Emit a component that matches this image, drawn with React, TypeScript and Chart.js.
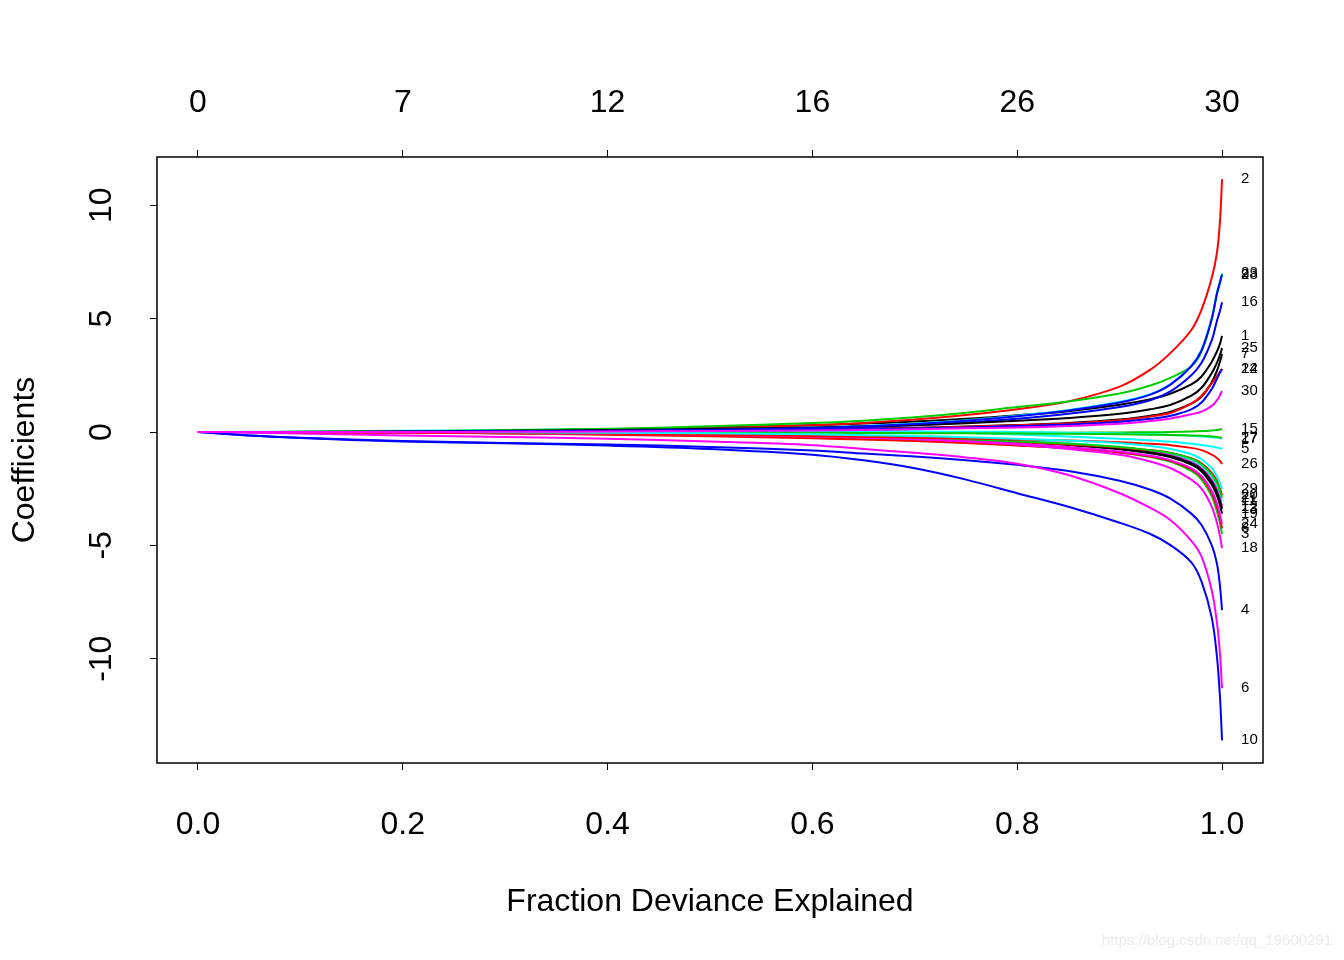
import React, { useEffect, useRef } from "react";
import { Chart, registerables } from "chart.js";

Chart.register(...registerables);

// Fraction of deviance explained at which coefficients are sampled
const FRACTION = [0, 0.05, 0.1, 0.2, 0.3, 0.4, 0.5, 0.6, 0.65, 0.7, 0.75, 0.8, 0.85, 0.9, 0.93, 0.95, 0.97, 0.98, 0.99, 0.995, 0.998, 1.0];

// Bottom-axis ticks and top-axis (degrees of freedom) labels
const X_TICKS = [0, 0.2, 0.4, 0.6, 0.8, 1.0];
const DF_LABELS = ["0", "7", "12", "16", "26", "30"];
const Y_TICKS = [-10, -5, 0, 5, 10];

// Coefficient paths, one per variable
const coef1 = [0, 0, 0.01, 0.03, 0.07, 0.12, 0.2, 0.3, 0.37, 0.46, 0.58, 0.74, 0.92, 1.2, 1.45, 1.7, 2.1, 2.45, 3.1, 3.55, 3.9, 4.24];
const coef2 = [0, 0, 0, 0.02, 0.05, 0.1, 0.18, 0.3, 0.4, 0.55, 0.75, 1.0, 1.35, 2.0, 2.75, 3.5, 4.5, 5.4, 6.8, 7.9, 9.3, 11.15];
const coef3 = [0, 0, -0.01, -0.02, -0.05, -0.1, -0.17, -0.25, -0.31, -0.38, -0.47, -0.58, -0.71, -0.9, -1.1, -1.32, -1.72, -2.1, -2.85, -3.5, -4.05, -4.5];
const coef4 = [0, -0.15, -0.25, -0.4, -0.48, -0.55, -0.66, -0.82, -0.95, -1.08, -1.25, -1.45, -1.72, -2.15, -2.55, -2.95, -3.6, -4.1, -5.0, -5.8, -6.8, -7.86];
const coef5 = [0, 0.01, 0.02, 0.05, 0.09, 0.12, 0.14, 0.11, 0.07, 0.02, -0.04, -0.11, -0.2, -0.3, -0.37, -0.43, -0.52, -0.57, -0.64, -0.69, -0.72, -0.75];
const coef6 = [0, -0.03, -0.07, -0.15, -0.22, -0.3, -0.42, -0.58, -0.75, -0.92, -1.12, -1.4, -1.9, -2.7, -3.35, -3.9, -4.8, -5.5, -7.0, -8.4, -9.8, -11.3];
const coef7 = [0, 0, 0, 0.01, 0.03, 0.05, 0.08, 0.12, 0.15, 0.19, 0.24, 0.31, 0.4, 0.55, 0.72, 0.9, 1.25, 1.55, 2.2, 2.7, 3.1, 3.44];
const coef8 = [0, 0, -0.01, -0.03, -0.07, -0.12, -0.19, -0.28, -0.33, -0.4, -0.49, -0.6, -0.72, -0.9, -1.08, -1.28, -1.65, -2.0, -2.7, -3.3, -3.8, -4.25];
const coef9 = [0, 0, 0.01, 0.03, 0.08, 0.14, 0.25, 0.4, 0.5, 0.65, 0.85, 1.1, 1.35, 1.7, 2.05, 2.4, 2.9, 3.55, 5.0, 6.1, 6.6, 6.95];
const coef10 = [0, -0.15, -0.26, -0.42, -0.5, -0.6, -0.75, -1.0, -1.25, -1.6, -2.1, -2.7, -3.3, -4.0, -4.5, -5.0, -5.75, -6.6, -8.2, -9.9, -11.7, -13.6];
const coef11 = [0, 0, 0, 0, -0.01, -0.03, -0.07, -0.12, -0.17, -0.22, -0.29, -0.38, -0.5, -0.66, -0.82, -0.97, -1.25, -1.5, -1.98, -2.38, -2.75, -3.05];
const coef12 = [0, 0, 0, -0.01, -0.03, -0.05, -0.09, -0.15, -0.2, -0.26, -0.34, -0.44, -0.56, -0.72, -0.88, -1.04, -1.33, -1.6, -2.12, -2.55, -2.95, -3.3];
const coef13 = [0, 0, 0, 0, -0.02, -0.04, -0.08, -0.14, -0.19, -0.25, -0.33, -0.43, -0.56, -0.74, -0.9, -1.07, -1.37, -1.65, -2.2, -2.65, -3.05, -3.4];
const coef14 = [0, 0, 0, 0.01, 0.02, 0.04, 0.07, 0.11, 0.14, 0.18, 0.23, 0.3, 0.38, 0.52, 0.68, 0.85, 1.25, 1.6, 2.15, 2.45, 2.65, 2.78];
const coef15 = [0, 0, 0, 0, -0.01, -0.01, -0.02, -0.02, -0.03, -0.03, -0.03, -0.03, -0.03, -0.02, -0.01, 0, 0.02, 0.04, 0.07, 0.09, 0.11, 0.13];
const coef16 = [0, 0, 0, 0.01, 0.02, 0.05, 0.09, 0.15, 0.21, 0.3, 0.42, 0.58, 0.8, 1.1, 1.4, 1.8, 2.5, 3.05, 4.05, 4.9, 5.35, 5.72];
const coef17 = [0, 0, 0, 0, 0.01, 0.01, 0.02, 0.02, 0.02, 0.02, 0.01, 0, -0.03, -0.07, -0.1, -0.13, -0.17, -0.2, -0.23, -0.25, -0.27, -0.29];
const coef18 = [0, 0, -0.01, -0.02, -0.03, -0.05, -0.09, -0.15, -0.22, -0.3, -0.41, -0.55, -0.75, -1.0, -1.3, -1.6, -2.1, -2.5, -3.3, -4.0, -4.6, -5.12];
const coef19 = [0, 0, 0, 0, -0.01, -0.03, -0.07, -0.12, -0.17, -0.24, -0.33, -0.43, -0.57, -0.76, -0.94, -1.12, -1.44, -1.74, -2.33, -2.8, -3.22, -3.6];
const coef20 = [0, 0, -0.01, -0.02, -0.05, -0.08, -0.13, -0.2, -0.25, -0.3, -0.37, -0.45, -0.55, -0.68, -0.8, -0.92, -1.15, -1.38, -1.8, -2.15, -2.5, -2.78];
const coef21 = [0, 0, 0, -0.01, -0.03, -0.06, -0.1, -0.16, -0.21, -0.26, -0.33, -0.42, -0.52, -0.66, -0.8, -0.93, -1.18, -1.42, -1.88, -2.25, -2.6, -2.9];
const coef22 = [0, 0, 0, 0.01, 0.02, 0.03, 0.05, 0.09, 0.12, 0.15, 0.2, 0.26, 0.33, 0.45, 0.58, 0.72, 1.0, 1.3, 1.9, 2.35, 2.62, 2.78];
const coef23 = [0, 0, 0, 0.01, 0.03, 0.07, 0.12, 0.2, 0.27, 0.37, 0.52, 0.72, 0.97, 1.33, 1.68, 2.13, 2.93, 3.63, 5.05, 6.15, 6.65, 7.0];
const coef24 = [0, 0, -0.01, -0.02, -0.05, -0.08, -0.13, -0.2, -0.25, -0.32, -0.41, -0.52, -0.66, -0.86, -1.05, -1.25, -1.6, -1.95, -2.6, -3.15, -3.65, -4.06];
const coef25 = [0, 0, 0, 0.02, 0.05, 0.09, 0.14, 0.2, 0.25, 0.31, 0.39, 0.5, 0.62, 0.8, 1.0, 1.2, 1.6, 1.95, 2.6, 3.05, 3.4, 3.7];
const coef26 = [0, 0, 0, -0.02, -0.04, -0.08, -0.12, -0.18, -0.21, -0.25, -0.29, -0.33, -0.38, -0.45, -0.52, -0.58, -0.7, -0.8, -1.0, -1.15, -1.28, -1.41];
const coef27 = [0, 0, 0, 0, -0.01, -0.01, -0.02, -0.03, -0.04, -0.05, -0.06, -0.07, -0.08, -0.1, -0.12, -0.13, -0.15, -0.17, -0.2, -0.22, -0.24, -0.26];
const coef28 = [0, 0, 0, 0.01, 0.03, 0.06, 0.1, 0.18, 0.25, 0.35, 0.5, 0.7, 0.95, 1.3, 1.65, 2.1, 2.9, 3.6, 5.0, 6.1, 6.6, 6.95];
const coef29 = [0, 0, 0, 0, -0.01, -0.03, -0.06, -0.1, -0.14, -0.18, -0.23, -0.3, -0.38, -0.5, -0.62, -0.75, -0.98, -1.2, -1.6, -1.95, -2.25, -2.52];
const coef30 = [0, 0, 0, 0, 0.01, 0.02, 0.04, 0.07, 0.09, 0.12, 0.16, 0.2, 0.26, 0.36, 0.48, 0.6, 0.78, 0.9, 1.15, 1.4, 1.62, 1.81];

const COEFS = [
  coef1, coef2, coef3, coef4, coef5, coef6, coef7, coef8, coef9, coef10,
  coef11, coef12, coef13, coef14, coef15, coef16, coef17, coef18, coef19, coef20,
  coef21, coef22, coef23, coef24, coef25, coef26, coef27, coef28, coef29, coef30,
];

// R default palette cycled by matplot
const PALETTE = ["#000000", "#FF0000", "#00CD00", "#0000FF", "#00FFFF", "#FF00FF"];

const FONT = "'Liberation Sans', Arial, Helvetica, sans-serif";

const boxAndLabels = {
  id: "boxAndLabels",
  afterDatasetsDraw(chart: any) {
    const { ctx, chartArea, scales } = chart;
    const xs = scales.x;
    const ys = scales.y;
    ctx.save();
    // end-of-path variable labels
    ctx.fillStyle = "#000";
    ctx.font = `15px ${FONT}`;
    ctx.textAlign = "left";
    ctx.textBaseline = "middle";
    const lx = xs.getPixelForValue(FRACTION[FRACTION.length - 1]) + 19;
    COEFS.forEach((c, i) => {
      ctx.fillText(String(i + 1), lx, ys.getPixelForValue(c[c.length - 1]));
    });
    // plot box
    ctx.strokeStyle = "#000";
    ctx.lineWidth = 1.5;
    ctx.strokeRect(chartArea.left, chartArea.top, chartArea.right - chartArea.left, chartArea.bottom - chartArea.top);
    // faint watermark
    ctx.fillStyle = "#ececec";
    ctx.font = `15px ${FONT}`;
    ctx.textAlign = "right";
    ctx.fillText("https://blog.csdn.net/qq_19600291", 1332, 941);
    ctx.restore();
  },
};

export default function App() {
  const ref = useRef<HTMLCanvasElement | null>(null);

  useEffect(() => {
    if (!ref.current) return;
    Chart.defaults.color = "#000";
    const datasets = COEFS.map((c, i) => ({
      label: String(i + 1),
      data: FRACTION.map((x, j) => ({ x, y: c[j] })),
      borderColor: PALETTE[i % 6],
      backgroundColor: PALETTE[i % 6],
      borderWidth: 2,
      pointRadius: 0,
      fill: false,
      tension: 0.35,
    })).reverse();

    const tickFont = { family: FONT, size: 32 };
    const grid = { drawOnChartArea: false, drawTicks: true, tickLength: 7, color: "#000", lineWidth: 1 };

    const chart = new Chart(ref.current, {
      type: "line",
      data: { datasets },
      options: {
        animation: false,
        responsive: false,
        devicePixelRatio: 1,
        layout: { padding: { left: 0, right: 81, top: 0, bottom: 0 } },
        plugins: { legend: { display: false }, tooltip: { enabled: false } },
        scales: {
          x: {
            type: "linear",
            position: "bottom",
            min: -0.04,
            max: 1.04,
            afterBuildTicks: (s: any) => { s.ticks = X_TICKS.map((v) => ({ value: v })); },
            afterFit: (s: any) => { s.height = 197; },
            ticks: { font: tickFont, padding: 36, callback: (v: any) => Number(v).toFixed(1), maxRotation: 0, autoSkip: false },
            grid,
            border: { display: false },
            title: { display: true, text: "Fraction Deviance Explained", font: tickFont, padding: { top: 0, bottom: 39 } },
          },
          x2: {
            type: "linear",
            position: "top",
            min: -0.04,
            max: 1.04,
            afterBuildTicks: (s: any) => { s.ticks = X_TICKS.map((v) => ({ value: v })); },
            afterFit: (s: any) => { s.height = 157; },
            ticks: {
              font: tickFont,
              padding: 28,
              maxRotation: 0,
              autoSkip: false,
              callback: (v: any) => {
                const k = X_TICKS.findIndex((t) => Math.abs(t - Number(v)) < 1e-9);
                return k >= 0 ? DF_LABELS[k] : "";
              },
            },
            grid,
            border: { display: false },
          },
          y: {
            type: "linear",
            position: "left",
            min: -14.6,
            max: 12.13,
            afterBuildTicks: (s: any) => { s.ticks = Y_TICKS.map((v) => ({ value: v })); },
            afterFit: (s: any) => { s.width = 157; },
            ticks: { font: tickFont, padding: 25, minRotation: 90, maxRotation: 90, crossAlign: "center", autoSkip: false },
            grid,
            border: { display: false },
            title: { display: true, text: "Coefficients", font: tickFont, padding: { top: 6, bottom: 0 } },
          },
        },
      },
      plugins: [boxAndLabels],
    });
    return () => chart.destroy();
  }, []);

  return (
    <div style={{ position: "absolute", left: 0, top: 0, width: 1344, height: 960, background: "#fff" }}>
      <canvas ref={ref} width={1344} height={960} style={{ width: 1344, height: 960 }} />
    </div>
  );
}
